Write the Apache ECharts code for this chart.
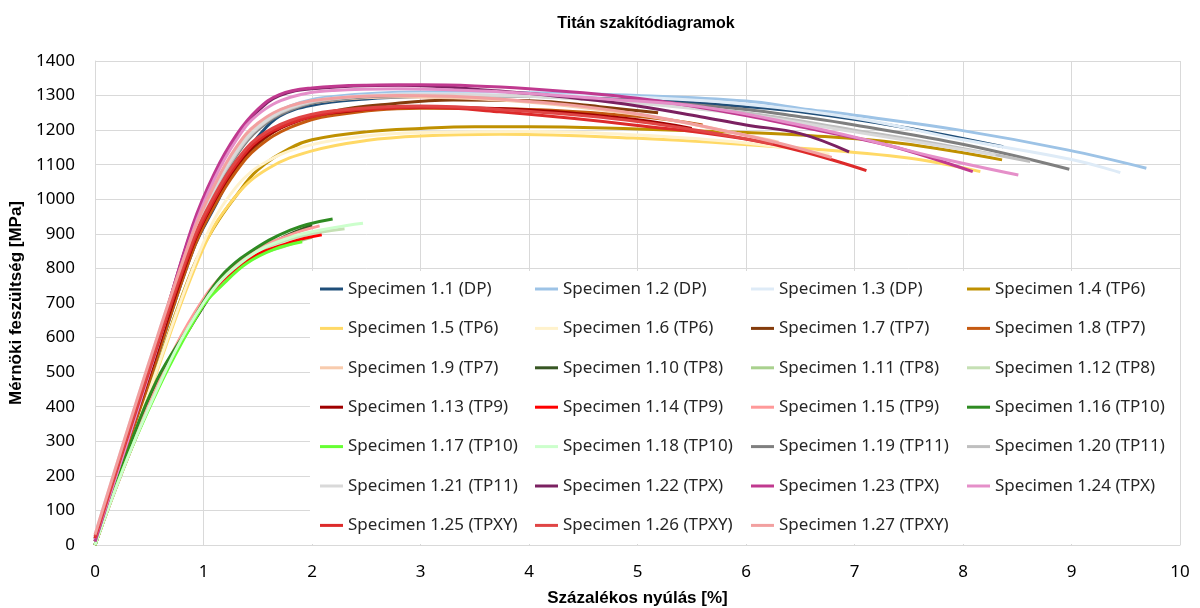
<!DOCTYPE html>
<html>
<head>
<meta charset="utf-8">
<script src="https://cdn.jsdelivr.net/npm/echarts@6/dist/echarts.min.js"></script>
<style>
  html, body { margin: 0; padding: 0; background: #fff; }
  #chart { width: 1200px; height: 608px; }
</style>
</head>
<body>
<div id="chart"></div>
<script>
// Tensile test curves of titanium specimens: elongation [%] vs engineering stress [MPa]
const chartTitle = 'Titán szakítódiagramok';
const xName = 'Százalékos nyúlás [%]';
const yName = 'Mérnöki feszültség [MPa]';

const specimenNames = [
  'Specimen 1.1 (DP)', 'Specimen 1.2 (DP)', 'Specimen 1.3 (DP)', 'Specimen 1.4 (TP6)',
  'Specimen 1.5 (TP6)', 'Specimen 1.6 (TP6)', 'Specimen 1.7 (TP7)', 'Specimen 1.8 (TP7)',
  'Specimen 1.9 (TP7)', 'Specimen 1.10 (TP8)', 'Specimen 1.11 (TP8)', 'Specimen 1.12 (TP8)',
  'Specimen 1.13 (TP9)', 'Specimen 1.14 (TP9)', 'Specimen 1.15 (TP9)', 'Specimen 1.16 (TP10)',
  'Specimen 1.17 (TP10)', 'Specimen 1.18 (TP10)', 'Specimen 1.19 (TP11)', 'Specimen 1.20 (TP11)',
  'Specimen 1.21 (TP11)', 'Specimen 1.22 (TPX)', 'Specimen 1.23 (TPX)', 'Specimen 1.24 (TPX)',
  'Specimen 1.25 (TPXY)', 'Specimen 1.26 (TPXY)', 'Specimen 1.27 (TPXY)'
];

// [elongation %, stress MPa]
const s1_1 = [[0,0],[0.5,470],[0.9,850],[1.12,988],[1.3,1095],[1.5,1180],[1.7,1240],[2.0,1272],[2.5,1290],[3.0,1297],[4.0,1300],[5.0,1290],[6.0,1268],[6.5,1253],[7.42,1210],[8.37,1152]];
const s1_2 = [[0,15],[0.5,510],[0.9,890],[1.1,1030],[1.3,1140],[1.5,1215],[1.8,1270],[2.2,1297],[3.0,1310],[4.0,1308],[5.0,1300],[6.0,1284],[6.5,1263],[7.0,1243],[7.97,1200],[8.96,1143],[9.69,1090]];
const s1_3 = [[0,30],[0.5,530],[0.9,900],[1.1,1035],[1.3,1140],[1.5,1210],[1.8,1265],[2.2,1292],[3.0,1305],[4.0,1303],[5.0,1295],[6.0,1275],[7.0,1235],[8.0,1172],[9.0,1115],[9.45,1077]];
const s1_4 = [[0,0],[0.5,450],[0.9,800],[1.1,920],[1.3,1010],[1.5,1085],[1.8,1148],[2.0,1172],[2.5,1195],[3.0,1205],[3.5,1210],[4.0,1210],[5.0,1203],[6.0,1193],[6.5,1186],[7.42,1162],[8.36,1114]];
const s1_5 = [[0,0],[0.5,440],[1.0,860],[1.3,1010],[1.6,1090],[2.0,1140],[2.5,1170],[3.0,1183],[3.73,1188],[4.96,1177],[6.19,1154],[7.42,1122],[8.16,1080]];
const s1_6 = [[0,0],[0.5,445],[1.0,875],[1.3,1035],[1.6,1112],[2.0,1158],[2.5,1183],[3.0,1193],[4.0,1196],[5.0,1186],[6.0,1163],[6.77,1130]];
const s1_7 = [[0,10],[0.5,480],[0.9,860],[1.1,990],[1.3,1090],[1.5,1160],[1.8,1220],[2.2,1255],[2.7,1275],[3.3,1287],[4.0,1285],[4.65,1268],[5.19,1250]];
const s1_8 = [[0,10],[0.5,475],[0.9,850],[1.1,980],[1.3,1080],[1.5,1150],[1.8,1208],[2.2,1243],[3.0,1263],[4.0,1260],[5.0,1240],[5.6,1215]];
const s1_9 = [[0,20],[0.5,515],[0.9,890],[1.1,1030],[1.3,1140],[1.5,1210],[1.8,1262],[2.2,1287],[2.8,1296],[3.73,1287],[5.0,1245],[6.0,1185],[6.3,1165]];
const s1_10 = [[0,0],[0.3,265],[0.57,470],[0.88,630],[1.05,715],[1.2,780],[1.4,832],[1.7,885],[2.0,925]];
const s1_11 = [[0,0],[0.5,400],[1.0,695],[1.4,820],[1.8,870],[2.0,890]];
const s1_12 = [[0,0],[0.5,405],[1.0,705],[1.4,828],[1.8,885],[2.3,915]];
const s1_13 = [[0,15],[0.5,490],[0.9,865],[1.1,995],[1.3,1095],[1.5,1165],[1.8,1218],[2.2,1250],[3.0,1266],[4.0,1258],[5.0,1230],[5.5,1205]];
const s1_14 = [[0,0],[0.5,400],[1.0,698],[1.4,822],[1.8,875],[2.09,897]];
const s1_15 = [[0,0],[0.5,408],[1.0,712],[1.4,838],[1.8,897],[2.07,923]];
const s1_16 = [[0,0],[0.3,270],[0.57,477],[0.88,638],[1.05,728],[1.2,790],[1.4,842],[1.8,911],[2.19,943]];
const s1_17 = [[0,0],[0.41,333],[0.97,680],[1.2,760],[1.4,815],[1.65,855],[1.91,877]];
const s1_18 = [[0,0],[0.5,400],[1.0,700],[1.4,830],[1.8,890],[2.2,918],[2.47,931]];
const s1_19 = [[0,10],[0.5,500],[0.9,880],[1.1,1020],[1.3,1125],[1.5,1200],[1.8,1258],[2.2,1288],[3.0,1300],[4.0,1298],[5.0,1285],[6.0,1260],[6.5,1239],[7.0,1215],[8.03,1157],[8.98,1087]];
const s1_20 = [[0,10],[0.5,505],[0.9,885],[1.1,1025],[1.3,1130],[1.5,1205],[1.8,1262],[2.2,1290],[3.0,1302],[4.0,1298],[5.0,1280],[6.0,1250],[7.0,1200],[7.73,1162],[8.62,1109]];
const s1_21 = [[0,15],[0.5,510],[0.9,890],[1.1,1030],[1.3,1135],[1.5,1208],[1.8,1265],[2.2,1292],[3.0,1303],[4.0,1298],[5.0,1278],[6.0,1245],[7.0,1195],[8.3,1128]];
const s1_22 = [[0,20],[0.3,310],[0.6,615],[0.9,920],[1.1,1070],[1.3,1180],[1.5,1255],[1.7,1300],[2.0,1320],[2.8,1330],[3.73,1313],[4.5,1290],[5.0,1270],[5.58,1239],[6.0,1215],[6.5,1190],[6.95,1137]];
const s1_23 = [[0,10],[0.3,305],[0.6,612],[0.9,925],[1.1,1075],[1.3,1185],[1.5,1260],[1.7,1303],[2.0,1322],[2.5,1330],[3.0,1331],[3.5,1328],[4.0,1320],[4.5,1308],[5.0,1292],[5.5,1270],[6.0,1242],[6.5,1210],[7.0,1178],[7.42,1147],[8.09,1080]];
const s1_24 = [[0,20],[0.3,300],[0.6,600],[0.9,905],[1.1,1058],[1.3,1170],[1.5,1245],[1.8,1295],[2.2,1315],[2.8,1320],[3.73,1311],[4.7,1290],[5.58,1268],[6.5,1215],[7.2,1165],[7.73,1123],[8.51,1070]];
const s1_25 = [[0,20],[0.5,505],[0.9,870],[1.1,1000],[1.3,1100],[1.5,1170],[1.8,1220],[2.17,1250],[2.6,1262],[3.0,1266],[3.73,1253],[4.96,1215],[6.19,1163],[7.11,1083]];
const s1_26 = [[0,25],[0.5,510],[0.9,880],[1.1,1010],[1.3,1110],[1.5,1178],[1.8,1228],[2.2,1256],[3.0,1270],[3.73,1260],[5.0,1225],[6.25,1160]];
const s1_27 = [[0,30],[0.5,530],[0.9,900],[1.1,1040],[1.3,1150],[1.5,1220],[1.8,1270],[2.2,1292],[2.8,1300],[3.73,1290],[4.96,1249],[6.19,1171],[6.79,1121]];

const curves = [s1_1, s1_2, s1_3, s1_4, s1_5, s1_6, s1_7, s1_8, s1_9, s1_10, s1_11, s1_12, s1_13, s1_14,
  s1_15, s1_16, s1_17, s1_18, s1_19, s1_20, s1_21, s1_22, s1_23, s1_24, s1_25, s1_26, s1_27];

const lineColors = [
  '#1f4e79', '#9dc3e6', '#deebf7', '#bf9000', '#ffd966', '#fff2cc', '#843c0c', '#c55a11', '#f8cbad',
  '#375623', '#a9d18e', '#c5e0b4', '#a00000', '#ff0000', '#ff9999', '#2e8b22', '#66ff33', '#ccffcc',
  '#7f7f7f', '#bfbfbf', '#d9d9d9', '#7b2161', '#c0398f', '#e58fc9', '#dd2a2a', '#e04545', '#f2a0a0'
];

const textFont = 'Noto Sans';
const boldFont = 'Liberation Sans';

const series = curves.map((pts, i) => ({
  name: specimenNames[i],
  type: 'line',
  data: pts,
  smooth: 0.4,
  showSymbol: false,
  symbol: 'none',
  lineStyle: { color: lineColors[i], width: 3 },
  itemStyle: { color: lineColors[i] },
  z: 2
}));

// four legend columns, seven rows
const colLeft = [320, 535, 751, 967];
const legends = colLeft.map((left, c) => ({
  orient: 'vertical',
  left: left,
  top: 279,
  padding: 0,
  itemGap: 19.4,
  itemWidth: 23,
  itemHeight: 3,
  itemTextGap: 2,
  icon: 'rect',
  selectedMode: false,
  z: 10,
  data: specimenNames.filter((_, i) => i % 4 === c),
  textStyle: { fontFamily: textFont, fontSize: 17, color: '#262626', lineHeight: 20 }
}));

const chart = echarts.init(document.getElementById('chart'));
chart.setOption({
  animation: false,
  backgroundColor: '#ffffff',
  title: {
    text: chartTitle,
    left: 641,
    textAlign: 'center',
    top: 11,
    textStyle: { fontFamily: boldFont, fontSize: 16, fontWeight: 'bold', color: '#000' }
  },
  grid: { left: 95, right: 20, top: 61, bottom: 63, containLabel: false, outerBoundsMode: 'none' },
  xAxis: {
    type: 'value', min: 0, max: 10, interval: 1,
    name: xName, nameLocation: 'middle', nameGap: 45,
    nameTextStyle: { fontFamily: boldFont, fontSize: 17, fontWeight: 'bold', color: '#000' },
    axisLine: { show: true, lineStyle: { color: '#d9d9d9', width: 1 } },
    axisTick: { show: false },
    axisLabel: { fontFamily: textFont, fontSize: 17, color: '#000', margin: 19 },
    splitLine: { show: true, lineStyle: { color: '#d9d9d9', width: 1 } }
  },
  yAxis: {
    type: 'value', min: 0, max: 1400, interval: 100,
    name: yName, nameLocation: 'middle', nameGap: 64, nameRotate: 90,
    nameTextStyle: { fontFamily: boldFont, fontSize: 17, fontWeight: 'bold', color: '#000' },
    axisLine: { show: true, lineStyle: { color: '#d9d9d9', width: 1 } },
    axisTick: { show: false },
    axisLabel: { fontFamily: textFont, fontSize: 17, color: '#000', margin: 20, formatter: v => String(v) },
    splitLine: { show: true, lineStyle: { color: '#d9d9d9', width: 1 } }
  },
  legend: legends,
  graphic: {
    elements: [{
      type: 'rect', z: 3,
      shape: { x: 310, y: 271, width: 870, height: 273 },
      style: { fill: '#ffffff', stroke: null }
    }]
  },
  series: series
});
</script>
</body>
</html>
